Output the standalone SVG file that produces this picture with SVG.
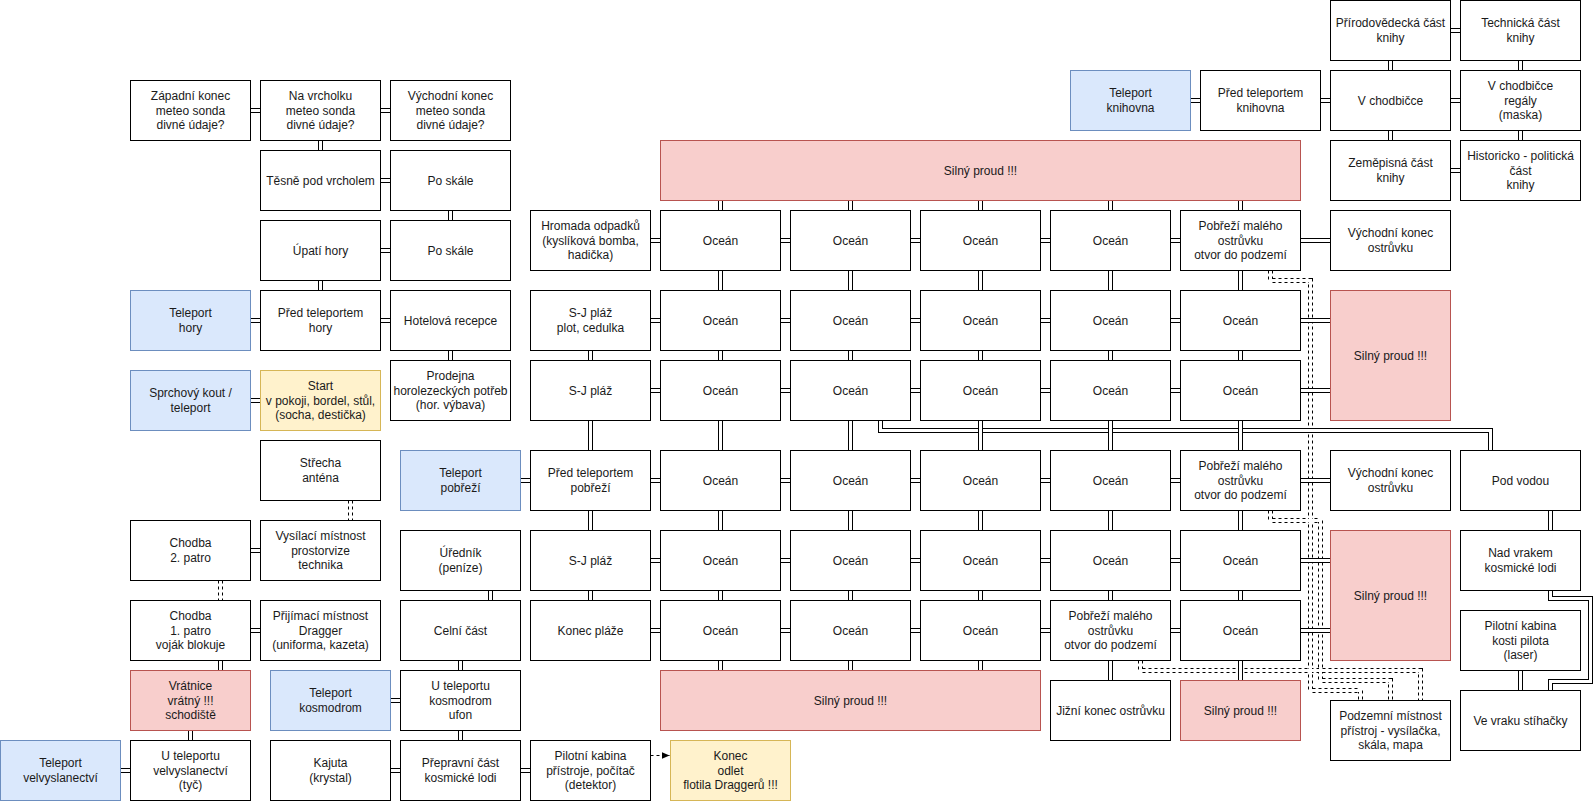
<svg xmlns="http://www.w3.org/2000/svg" width="1593" height="802" viewBox="0 0 1593 802">
<style>
rect{fill:#fff;stroke:#000;stroke-width:1}
.bl rect{fill:#dae8fc;stroke:#6c8ebf}
.ye rect{fill:#fff2cc;stroke:#d6b656}
.re rect{fill:#f8cecc;stroke:#b85450}
text{font-family:"Liberation Sans",Arial,Helvetica,sans-serif;font-size:12px;fill:#1a1a1a;text-anchor:middle}
.lo{fill:none;stroke:#000;stroke-width:5}
.li{fill:none;stroke:#fff;stroke-width:3}
.do{fill:none;stroke:#000;stroke-width:5;stroke-dasharray:3 3}
.ar{fill:none;stroke:#000;stroke-width:1;stroke-dasharray:3 3}
</style>
<defs>
<marker id="arrow" markerUnits="userSpaceOnUse" markerWidth="9" markerHeight="8" refX="8" refY="3.5" orient="auto">
<path d="M0,0 L8,3.5 L0,7 Z" fill="#000"/>
</marker>
<path id="L-solid" d=""/>
</defs>
<g transform="translate(0.5,0.5)">
<g id="connectors">
<!-- dashed double links -->
<path class="do" d="M350 500V520M220 580V600M1270 270V280H1310V690H1360V700M1270 510V520H1320V680H1390V700M1140 660V670H1420V700"/>
<path class="li" d="M350 500V520M220 580V600M1270 270V280H1310V690H1360V700M1270 510V520H1320V680H1390V700M1140 660V670H1420V700"/>
<!-- routed solid links -->
<path class="lo" d="M880 420V430H1490V450M1550 590V598H1590V681H1550V690"/>
<path class="li" d="M880 420V430H1490V450M1550 590V598H1590V681H1550V690"/>
<!-- straight solid links -->
<path class="lo" d="M250 110H260M380 110H390M320 140V150M380 180H390M450 210V220M380 250H390M320 280V290M250 320H260M380 320H390M450 350V360M250 400H260M250 550H260M250 630H260M220 660V670M190 730V740M120 770H130M390 700H400M460 660V670M460 730V740M490 590V600M390 770H400M520 770H530M520 480H530
M720 200V210M850 200V210M980 200V210M1110 200V210M1240 200V210
M650 240H660M780 240H790M910 240H920M1040 240H1050M1170 240H1180M1300 240H1330
M720 270V290M850 270V290M980 270V290M1110 270V290M1240 270V290
M650 320H660M780 320H790M910 320H920M1040 320H1050M1170 320H1180M1300 320H1330
M590 350V360M720 350V360M850 350V360M980 350V360M1110 350V360M1240 350V360
M650 390H660M780 390H790M910 390H920M1040 390H1050M1170 390H1180M1300 390H1330
M590 420V450M720 420V450M850 420V450M980 420V450M1110 420V450M1240 420V450
M650 480H660M780 480H790M910 480H920M1040 480H1050M1170 480H1180M1300 480H1330
M590 510V530M720 510V530M850 510V530M980 510V530M1110 510V530M1240 510V530M1550 510V530
M650 560H660M780 560H790M910 560H920M1040 560H1050M1170 560H1180M1300 560H1330
M590 590V600M720 590V600M850 590V600M980 590V600M1110 590V600M1240 590V600
M650 630H660M780 630H790M910 630H920M1040 630H1050M1170 630H1180M1300 630H1330
M720 660V670M850 660V670M980 660V670M1110 660V680M1240 660V680M1520 670V690
M1190 100H1200M1320 100H1330M1450 100H1460M1450 30H1460M1390 60V70M1520 60V70M1390 130V140M1520 130V140M1450 170H1460"/>
<path class="li" d="M250 110H260M380 110H390M320 140V150M380 180H390M450 210V220M380 250H390M320 280V290M250 320H260M380 320H390M450 350V360M250 400H260M250 550H260M250 630H260M220 660V670M190 730V740M120 770H130M390 700H400M460 660V670M460 730V740M490 590V600M390 770H400M520 770H530M520 480H530
M720 200V210M850 200V210M980 200V210M1110 200V210M1240 200V210
M650 240H660M780 240H790M910 240H920M1040 240H1050M1170 240H1180M1300 240H1330
M720 270V290M850 270V290M980 270V290M1110 270V290M1240 270V290
M650 320H660M780 320H790M910 320H920M1040 320H1050M1170 320H1180M1300 320H1330
M590 350V360M720 350V360M850 350V360M980 350V360M1110 350V360M1240 350V360
M650 390H660M780 390H790M910 390H920M1040 390H1050M1170 390H1180M1300 390H1330
M590 420V450M720 420V450M850 420V450M980 420V450M1110 420V450M1240 420V450
M650 480H660M780 480H790M910 480H920M1040 480H1050M1170 480H1180M1300 480H1330
M590 510V530M720 510V530M850 510V530M980 510V530M1110 510V530M1240 510V530M1550 510V530
M650 560H660M780 560H790M910 560H920M1040 560H1050M1170 560H1180M1300 560H1330
M590 590V600M720 590V600M850 590V600M980 590V600M1110 590V600M1240 590V600
M650 630H660M780 630H790M910 630H920M1040 630H1050M1170 630H1180M1300 630H1330
M720 660V670M850 660V670M980 660V670M1110 660V680M1240 660V680M1520 670V690
M1190 100H1200M1320 100H1330M1450 100H1460M1450 30H1460M1390 60V70M1520 60V70M1390 130V140M1520 130V140M1450 170H1460"/>
<!-- dashed arrow -->
<path class="ar" d="M650 755H669" marker-end="url(#arrow)"/>
</g>

<!-- mountain / hotel area -->
<g id="zapadni-konec"><rect x="130" y="80" width="120" height="60"/><text><tspan x="190" y="99.6">Západní konec</tspan><tspan x="190" y="114">meteo sonda</tspan><tspan x="190" y="128.4">divné údaje?</tspan></text></g>
<g id="na-vrcholku"><rect x="260" y="80" width="120" height="60"/><text><tspan x="320" y="99.6">Na vrcholku</tspan><tspan x="320" y="114">meteo sonda</tspan><tspan x="320" y="128.4">divné údaje?</tspan></text></g>
<g id="vychodni-konec-sonda"><rect x="390" y="80" width="120" height="60"/><text><tspan x="450" y="99.6">Východní konec</tspan><tspan x="450" y="114">meteo sonda</tspan><tspan x="450" y="128.4">divné údaje?</tspan></text></g>
<g id="tesne-pod-vrcholem"><rect x="260" y="150" width="120" height="60"/><text x="320" y="184">Těsně pod vrcholem</text></g>
<g id="po-skale-1"><rect x="390" y="150" width="120" height="60"/><text x="450" y="184">Po skále</text></g>
<g id="upati-hory"><rect x="260" y="220" width="120" height="60"/><text x="320" y="254">Úpatí hory</text></g>
<g id="po-skale-2"><rect x="390" y="220" width="120" height="60"/><text x="450" y="254">Po skále</text></g>
<g id="teleport-hory" class="bl"><rect x="130" y="290" width="120" height="60"/><text><tspan x="190" y="316.8">Teleport</tspan><tspan x="190" y="331.2">hory</tspan></text></g>
<g id="pred-teleportem-hory"><rect x="260" y="290" width="120" height="60"/><text><tspan x="320" y="316.8">Před teleportem</tspan><tspan x="320" y="331.2">hory</tspan></text></g>
<g id="hotelova-recepce"><rect x="390" y="290" width="120" height="60"/><text x="450" y="324">Hotelová recepce</text></g>
<g id="sprchovy-kout" class="bl"><rect x="130" y="370" width="120" height="60"/><text><tspan x="190" y="396.8">Sprchový kout /</tspan><tspan x="190" y="411.2">teleport</tspan></text></g>
<g id="start" class="ye"><rect x="260" y="370" width="120" height="60"/><text><tspan x="320" y="389.6">Start</tspan><tspan x="320" y="404">v pokoji, bordel, stůl,</tspan><tspan x="320" y="418.4">(socha, destička)</tspan></text></g>
<g id="prodejna"><rect x="390" y="360" width="120" height="60"/><text><tspan x="450" y="379.6">Prodejna</tspan><tspan x="450" y="394">horolezeckých potřeb</tspan><tspan x="450" y="408.4">(hor. výbava)</tspan></text></g>
<g id="strecha"><rect x="260" y="440" width="120" height="60"/><text><tspan x="320" y="466.8">Střecha</tspan><tspan x="320" y="481.2">anténa</tspan></text></g>
<g id="chodba-2"><rect x="130" y="520" width="120" height="60"/><text><tspan x="190" y="546.8">Chodba</tspan><tspan x="190" y="561.2">2. patro</tspan></text></g>
<g id="vysilaci-mistnost"><rect x="260" y="520" width="120" height="60"/><text><tspan x="320" y="539.6">Vysílací místnost</tspan><tspan x="320" y="554">prostorvize</tspan><tspan x="320" y="568.4">technika</tspan></text></g>
<g id="chodba-1"><rect x="130" y="600" width="120" height="60"/><text><tspan x="190" y="619.6">Chodba</tspan><tspan x="190" y="634">1. patro</tspan><tspan x="190" y="648.4">voják blokuje</tspan></text></g>
<g id="prijimaci-mistnost"><rect x="260" y="600" width="120" height="60"/><text><tspan x="320" y="619.6">Přijímací místnost</tspan><tspan x="320" y="634">Dragger</tspan><tspan x="320" y="648.4">(uniforma, kazeta)</tspan></text></g>
<g id="vratnice" class="re"><rect x="130" y="670" width="120" height="60"/><text><tspan x="190" y="689.6">Vrátnice</tspan><tspan x="190" y="704">vrátný !!!</tspan><tspan x="190" y="718.4">schodiště</tspan></text></g>
<g id="u-teleportu-velvyslanectvi"><rect x="130" y="740" width="120" height="60"/><text><tspan x="190" y="759.6">U teleportu</tspan><tspan x="190" y="774">velvyslanectví</tspan><tspan x="190" y="788.4">(tyč)</tspan></text></g>
<g id="teleport-velvyslanectvi" class="bl"><rect x="0" y="740" width="120" height="60"/><text><tspan x="60" y="766.8">Teleport</tspan><tspan x="60" y="781.2">velvyslanectví</tspan></text></g>
<g id="teleport-kosmodrom" class="bl"><rect x="270" y="670" width="120" height="60"/><text><tspan x="330" y="696.8">Teleport</tspan><tspan x="330" y="711.2">kosmodrom</tspan></text></g>
<g id="kajuta"><rect x="270" y="740" width="120" height="60"/><text><tspan x="330" y="766.8">Kajuta</tspan><tspan x="330" y="781.2">(krystal)</tspan></text></g>
<g id="teleport-pobrezi" class="bl"><rect x="400" y="450" width="120" height="60"/><text><tspan x="460" y="476.8">Teleport</tspan><tspan x="460" y="491.2">pobřeží</tspan></text></g>
<g id="urednik"><rect x="400" y="530" width="120" height="60"/><text><tspan x="460" y="556.8">Úředník</tspan><tspan x="460" y="571.2">(peníze)</tspan></text></g>
<g id="celni-cast"><rect x="400" y="600" width="120" height="60"/><text x="460" y="634">Celní část</text></g>
<g id="u-teleportu-kosmodrom"><rect x="400" y="670" width="120" height="60"/><text><tspan x="460" y="689.6">U teleportu</tspan><tspan x="460" y="704">kosmodrom</tspan><tspan x="460" y="718.4">ufon</tspan></text></g>
<g id="prepravni-cast"><rect x="400" y="740" width="120" height="60"/><text><tspan x="460" y="766.8">Přepravní část</tspan><tspan x="460" y="781.2">kosmické lodi</tspan></text></g>
<g id="pilotni-kabina-lod"><rect x="530" y="740" width="120" height="60"/><text><tspan x="590" y="759.6">Pilotní kabina</tspan><tspan x="590" y="774">přístroje, počítač</tspan><tspan x="590" y="788.4">(detektor)</tspan></text></g>
<g id="konec" class="ye"><rect x="670" y="740" width="120" height="60"/><text><tspan x="730" y="759.6">Konec</tspan><tspan x="730" y="774">odlet</tspan><tspan x="730" y="788.4">flotila Draggerů !!!</tspan></text></g>

<!-- ocean area -->
<g id="silny-proud-top" class="re"><rect x="660" y="140" width="640" height="60"/><text x="980" y="174">Silný proud !!!</text></g>
<g id="hromada-odpadku"><rect x="530" y="210" width="120" height="60"/><text><tspan x="590" y="229.6">Hromada odpadků</tspan><tspan x="590" y="244">(kyslíková bomba,</tspan><tspan x="590" y="258.4">hadička)</tspan></text></g>
<g id="ocean-1-1"><rect x="660" y="210" width="120" height="60"/><text x="720" y="244">Oceán</text></g>
<g id="ocean-1-2"><rect x="790" y="210" width="120" height="60"/><text x="850" y="244">Oceán</text></g>
<g id="ocean-1-3"><rect x="920" y="210" width="120" height="60"/><text x="980" y="244">Oceán</text></g>
<g id="ocean-1-4"><rect x="1050" y="210" width="120" height="60"/><text x="1110" y="244">Oceán</text></g>
<g id="pobrezi-1"><rect x="1180" y="210" width="120" height="60"/><text><tspan x="1240" y="229.6">Pobřeží malého</tspan><tspan x="1240" y="244">ostrůvku</tspan><tspan x="1240" y="258.4">otvor do podzemí</tspan></text></g>
<g id="vychodni-konec-ostrovku-1"><rect x="1330" y="210" width="120" height="60"/><text><tspan x="1390" y="236.8">Východní konec</tspan><tspan x="1390" y="251.2">ostrůvku</tspan></text></g>

<g id="sj-plaz-plot"><rect x="530" y="290" width="120" height="60"/><text><tspan x="590" y="316.8">S-J pláž</tspan><tspan x="590" y="331.2">plot, cedulka</tspan></text></g>
<g id="ocean-2-1"><rect x="660" y="290" width="120" height="60"/><text x="720" y="324">Oceán</text></g>
<g id="ocean-2-2"><rect x="790" y="290" width="120" height="60"/><text x="850" y="324">Oceán</text></g>
<g id="ocean-2-3"><rect x="920" y="290" width="120" height="60"/><text x="980" y="324">Oceán</text></g>
<g id="ocean-2-4"><rect x="1050" y="290" width="120" height="60"/><text x="1110" y="324">Oceán</text></g>
<g id="ocean-2-5"><rect x="1180" y="290" width="120" height="60"/><text x="1240" y="324">Oceán</text></g>
<g id="silny-proud-right-1" class="re"><rect x="1330" y="290" width="120" height="130"/><text x="1390" y="359">Silný proud !!!</text></g>

<g id="sj-plaz-1"><rect x="530" y="360" width="120" height="60"/><text x="590" y="394">S-J pláž</text></g>
<g id="ocean-3-1"><rect x="660" y="360" width="120" height="60"/><text x="720" y="394">Oceán</text></g>
<g id="ocean-3-2"><rect x="790" y="360" width="120" height="60"/><text x="850" y="394">Oceán</text></g>
<g id="ocean-3-3"><rect x="920" y="360" width="120" height="60"/><text x="980" y="394">Oceán</text></g>
<g id="ocean-3-4"><rect x="1050" y="360" width="120" height="60"/><text x="1110" y="394">Oceán</text></g>
<g id="ocean-3-5"><rect x="1180" y="360" width="120" height="60"/><text x="1240" y="394">Oceán</text></g>

<g id="pred-teleportem-pobrezi"><rect x="530" y="450" width="120" height="60"/><text><tspan x="590" y="476.8">Před teleportem</tspan><tspan x="590" y="491.2">pobřeží</tspan></text></g>
<g id="ocean-4-1"><rect x="660" y="450" width="120" height="60"/><text x="720" y="484">Oceán</text></g>
<g id="ocean-4-2"><rect x="790" y="450" width="120" height="60"/><text x="850" y="484">Oceán</text></g>
<g id="ocean-4-3"><rect x="920" y="450" width="120" height="60"/><text x="980" y="484">Oceán</text></g>
<g id="ocean-4-4"><rect x="1050" y="450" width="120" height="60"/><text x="1110" y="484">Oceán</text></g>
<g id="pobrezi-2"><rect x="1180" y="450" width="120" height="60"/><text><tspan x="1240" y="469.6">Pobřeží malého</tspan><tspan x="1240" y="484">ostrůvku</tspan><tspan x="1240" y="498.4">otvor do podzemí</tspan></text></g>
<g id="vychodni-konec-ostrovku-2"><rect x="1330" y="450" width="120" height="60"/><text><tspan x="1390" y="476.8">Východní konec</tspan><tspan x="1390" y="491.2">ostrůvku</tspan></text></g>
<g id="pod-vodou"><rect x="1460" y="450" width="120" height="60"/><text x="1520" y="484">Pod vodou</text></g>

<g id="sj-plaz-2"><rect x="530" y="530" width="120" height="60"/><text x="590" y="564">S-J pláž</text></g>
<g id="ocean-5-1"><rect x="660" y="530" width="120" height="60"/><text x="720" y="564">Oceán</text></g>
<g id="ocean-5-2"><rect x="790" y="530" width="120" height="60"/><text x="850" y="564">Oceán</text></g>
<g id="ocean-5-3"><rect x="920" y="530" width="120" height="60"/><text x="980" y="564">Oceán</text></g>
<g id="ocean-5-4"><rect x="1050" y="530" width="120" height="60"/><text x="1110" y="564">Oceán</text></g>
<g id="ocean-5-5"><rect x="1180" y="530" width="120" height="60"/><text x="1240" y="564">Oceán</text></g>
<g id="silny-proud-right-2" class="re"><rect x="1330" y="530" width="120" height="130"/><text x="1390" y="599">Silný proud !!!</text></g>
<g id="nad-vrakem"><rect x="1460" y="530" width="120" height="60"/><text><tspan x="1520" y="556.8">Nad vrakem</tspan><tspan x="1520" y="571.2">kosmické lodi</tspan></text></g>

<g id="konec-plaze"><rect x="530" y="600" width="120" height="60"/><text x="590" y="634">Konec pláže</text></g>
<g id="ocean-6-1"><rect x="660" y="600" width="120" height="60"/><text x="720" y="634">Oceán</text></g>
<g id="ocean-6-2"><rect x="790" y="600" width="120" height="60"/><text x="850" y="634">Oceán</text></g>
<g id="ocean-6-3"><rect x="920" y="600" width="120" height="60"/><text x="980" y="634">Oceán</text></g>
<g id="pobrezi-3"><rect x="1050" y="600" width="120" height="60"/><text><tspan x="1110" y="619.6">Pobřeží malého</tspan><tspan x="1110" y="634">ostrůvku</tspan><tspan x="1110" y="648.4">otvor do podzemí</tspan></text></g>
<g id="ocean-6-5"><rect x="1180" y="600" width="120" height="60"/><text x="1240" y="634">Oceán</text></g>
<g id="pilotni-kabina-kosti"><rect x="1460" y="610" width="120" height="60"/><text><tspan x="1520" y="629.6">Pilotní kabina</tspan><tspan x="1520" y="644">kosti pilota</tspan><tspan x="1520" y="658.4">(laser)</tspan></text></g>

<g id="silny-proud-bottom" class="re"><rect x="660" y="670" width="380" height="60"/><text x="850" y="704">Silný proud !!!</text></g>
<g id="jizni-konec"><rect x="1050" y="680" width="120" height="60"/><text x="1110" y="714">Jižní konec ostrůvku</text></g>
<g id="silny-proud-small" class="re"><rect x="1180" y="680" width="120" height="60"/><text x="1240" y="714">Silný proud !!!</text></g>
<g id="podzemni-mistnost"><rect x="1330" y="700" width="120" height="60"/><text><tspan x="1390" y="719.6">Podzemní místnost</tspan><tspan x="1390" y="734">přístroj - vysílačka,</tspan><tspan x="1390" y="748.4">skála, mapa</tspan></text></g>
<g id="ve-vraku"><rect x="1460" y="690" width="120" height="60"/><text x="1520" y="724">Ve vraku stíhačky</text></g>

<!-- library -->
<g id="teleport-knihovna" class="bl"><rect x="1070" y="70" width="120" height="60"/><text><tspan x="1130" y="96.8">Teleport</tspan><tspan x="1130" y="111.2">knihovna</tspan></text></g>
<g id="pred-teleportem-knihovna"><rect x="1200" y="70" width="120" height="60"/><text><tspan x="1260" y="96.8">Před teleportem</tspan><tspan x="1260" y="111.2">knihovna</tspan></text></g>
<g id="v-chodbicce"><rect x="1330" y="70" width="120" height="60"/><text x="1390" y="104">V chodbičce</text></g>
<g id="v-chodbicce-regaly"><rect x="1460" y="70" width="120" height="60"/><text><tspan x="1520" y="89.6">V chodbičce</tspan><tspan x="1520" y="104">regály</tspan><tspan x="1520" y="118.4">(maska)</tspan></text></g>
<g id="prirodovedecka"><rect x="1330" y="0" width="120" height="60"/><text><tspan x="1390" y="26.8">Přírodovědecká část</tspan><tspan x="1390" y="41.2">knihy</tspan></text></g>
<g id="technicka"><rect x="1460" y="0" width="120" height="60"/><text><tspan x="1520" y="26.8">Technická část</tspan><tspan x="1520" y="41.2">knihy</tspan></text></g>
<g id="zemepisna"><rect x="1330" y="140" width="120" height="60"/><text><tspan x="1390" y="166.8">Zeměpisná část</tspan><tspan x="1390" y="181.2">knihy</tspan></text></g>
<g id="historicko-politicka"><rect x="1460" y="140" width="120" height="60"/><text><tspan x="1520" y="159.6">Historicko - politická</tspan><tspan x="1520" y="174">část</tspan><tspan x="1520" y="188.4">knihy</tspan></text></g>
</g>
</svg>
